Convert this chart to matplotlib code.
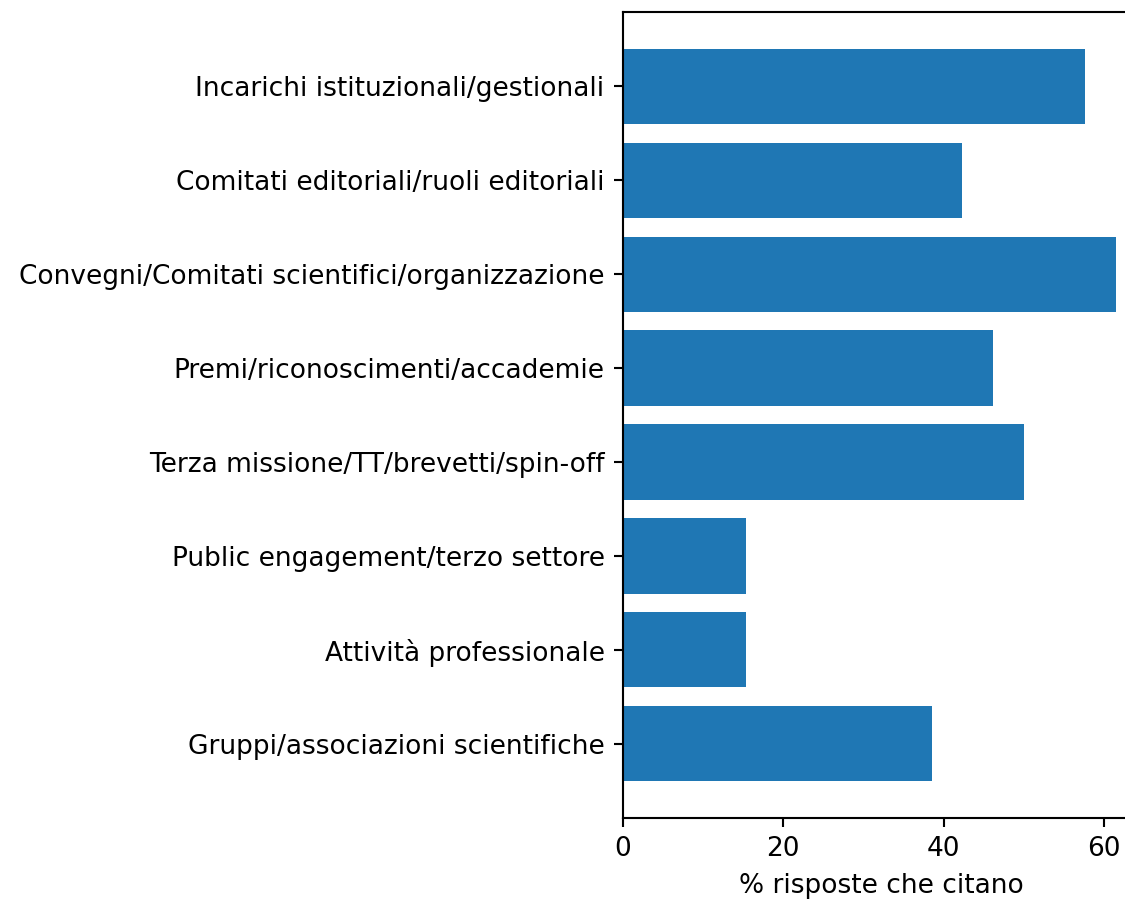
import matplotlib
matplotlib.use("Agg")
import matplotlib.pyplot as plt

categorie = [
    "Incarichi istituzionali/gestionali",
    "Comitati editoriali/ruoli editoriali",
    "Convegni/Comitati scientifici/organizzazione",
    "Premi/riconoscimenti/accademie",
    "Terza missione/TT/brevetti/spin-off",
    "Public engagement/terzo settore",
    "Attività professionale",
    "Gruppi/associazioni scientifiche",
]
percentuali = [57.7, 42.3, 61.5, 46.2, 50.0, 15.4, 15.4, 38.5]

DPI = 190
fig = plt.figure(figsize=(1125 / DPI, 903 / DPI), dpi=DPI)
ax = fig.add_axes([0.5538, 0.0941, 0.4600, 0.8926])

# dal basso verso l'alto
ax.barh(categorie[::-1], percentuali[::-1], color="#1f77b4")
ax.set_xlabel("% risposte che citano")

fig.savefig("out.png", dpi=DPI)
